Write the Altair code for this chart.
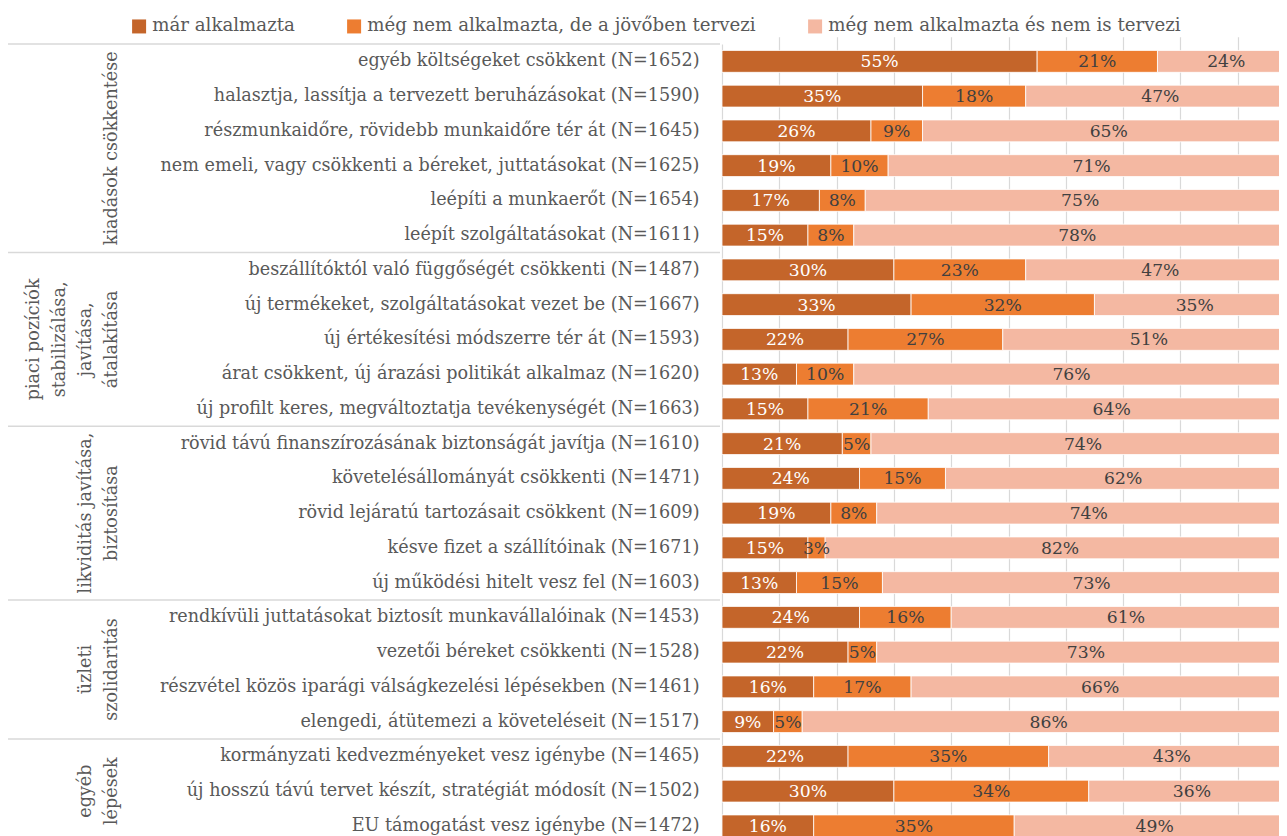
import altair as alt
import pandas as pd

categories = [
    "egyéb költségeket csökkent (N=1652)",
    "halasztja, lassítja a tervezett beruházásokat (N=1590)",
    "részmunkaidőre, rövidebb munkaidőre tér át (N=1645)",
    "nem emeli, vagy csökkenti a béreket, juttatásokat (N=1625)",
    "leépíti a munkaerőt (N=1654)",
    "leépít szolgáltatásokat (N=1611)",
    "beszállítóktól való függőségét csökkenti (N=1487)",
    "új termékeket, szolgáltatásokat vezet be (N=1667)",
    "új értékesítési módszerre tér át (N=1593)",
    "árat csökkent, új árazási politikát alkalmaz (N=1620)",
    "új profilt keres, megváltoztatja tevékenységét (N=1663)",
    "rövid távú finanszírozásának biztonságát javítja (N=1610)",
    "követelésállományát csökkenti (N=1471)",
    "rövid lejáratú tartozásait csökkent (N=1609)",
    "késve fizet a szállítóinak (N=1671)",
    "új működési hitelt vesz fel (N=1603)",
    "rendkívüli juttatásokat biztosít munkavállalóinak (N=1453)",
    "vezetői béreket csökkenti (N=1528)",
    "részvétel közös iparági válságkezelési lépésekben (N=1461)",
    "elengedi, átütemezi a követeléseit (N=1517)",
    "kormányzati kedvezményeket vesz igénybe (N=1465)",
    "új hosszú távú tervet készít, stratégiát módosít (N=1502)",
    "EU támogatást vesz igénybe (N=1472)",
]

mar_alkalmazta = [55, 35, 26, 19, 17, 15, 30, 33, 22, 13, 15, 21, 24, 19, 15, 13, 24, 22, 16, 9, 22, 30, 16]
tervezi = [21, 18, 9, 10, 8, 8, 23, 32, 27, 10, 21, 5, 15, 8, 3, 15, 16, 5, 17, 5, 35, 34, 35]
nem_tervezi = [24, 47, 65, 71, 75, 78, 47, 35, 51, 76, 64, 74, 62, 74, 82, 73, 61, 73, 66, 86, 43, 36, 49]

series_names = [
    "már alkalmazta",
    "még nem alkalmazta, de a jövőben tervezi",
    "még nem alkalmazta és nem is tervezi",
]
series_colors = ["#C4652A", "#ED7D31", "#F4B8A2"]

group_labels = [
    "kiadások csökkentése",
    "piaci pozíciók\nstabilizálása,\njavítása,\nátalakítása",
    "likviditás javítása,\nbiztosítása",
    "üzleti\nszolidaritás",
    "egyéb\nlépések",
]
group_sizes = [6, 5, 5, 4, 3]

FONT = "DejaVu Serif"
TXT = "#595959"
N = len(categories)
STEP = 34.75
FULL = STEP * N
LH = 26
PLOT_W = 557
PX_PER_PCT = 5.73

rows = []
for i, c in enumerate(categories):
    for j, vals in enumerate([mar_alkalmazta, tervezi, nem_tervezi]):
        rows.append({"cat": c, "series": series_names[j], "order": j, "value": vals[i]})
df = pd.DataFrame(rows)

starts = []
s = 0
for n in group_sizes:
    starts.append(s)
    s += n
gdf = pd.DataFrame({
    "label": group_labels,
    "start": starts,
    "mid": [st + n / 2 for st, n in zip(starts, group_sizes)],
})

yscale = alt.Scale(domain=categories, range=[0, FULL], paddingInner=0.37, paddingOuter=0.185)

base = alt.Chart(df).transform_stack(
    stack="value", as_=["v0", "v1"], groupby=["cat"], sort=[alt.SortField("order")]
)

xscale = alt.Scale(domain=[0, PLOT_W / PX_PER_PCT], nice=False, zero=True)

FS_CAT = 17.6
FS_LEG = 18.2
FS_VAL = 17.2

bars = base.mark_bar(clip=True, stroke="white", strokeWidth=0.8).encode(
    y=alt.Y("cat:N", scale=yscale, sort=categories,
            axis=alt.Axis(title=None, ticks=False, labelPadding=23, labelFontSize=FS_CAT,
                          labelFont=FONT, labelColor=TXT, labelLimit=800,
                          domainColor="#d9d9d9", domainWidth=1.2, grid=False)),
    x=alt.X("v0:Q", scale=xscale,
            axis=alt.Axis(title=None, labels=False, ticks=False, domain=False, grid=True,
                          values=[10, 20, 30, 40, 50, 60, 70, 80, 90],
                          gridColor="#d9d9d9", gridWidth=1.2)),
    x2="v1:Q",
    color=alt.Color("series:N",
                    scale=alt.Scale(domain=series_names, range=series_colors),
                    legend=alt.Legend(title=None, orient="none", direction="horizontal",
                                      legendX=-592, legendY=-27, symbolType="square",
                                      symbolSize=196, symbolStrokeWidth=0,
                                      labelFontSize=FS_LEG, labelFont=FONT, labelColor=TXT,
                                      columnPadding=50, labelOffset=4, labelLimit=800)),
    order=alt.Order("order:Q"),
)

labels = base.transform_calculate(
    mid="(datum.v0 + datum.v1) / 2",
    lbl="format(datum.value, 'd') + '%'",
).mark_text(font=FONT, fontSize=FS_VAL, baseline="middle", align="center", dy=1).encode(
    y=alt.Y("cat:N", scale=yscale, sort=categories),
    x=alt.X("mid:Q", scale=xscale),
    text="lbl:N",
    color=alt.condition(alt.datum.order == 0, alt.value("white"), alt.value("#404040")),
)

gscale = alt.Scale(domain=[0, N], range=[0, FULL], nice=False, zero=False)

seps = alt.Chart(gdf).mark_rule(color="#d9d9d9", strokeWidth=1.5).encode(
    y=alt.Y("start:Q", scale=gscale, axis=None),
    x=alt.value(-714),
    x2=alt.value(-2),
)

gtext = alt.Chart(gdf).transform_calculate(
    nlines="length(split(datum.label, '\\n'))",
    gx=f"-610 - (datum.nlines - 1) * {LH}",
).mark_text(
    font=FONT, fontSize=FS_CAT, angle=270, align="center", baseline="middle",
    lineBreak="\n", lineHeight=LH, color=TXT,
).encode(
    y=alt.Y("mid:Q", scale=gscale, axis=None),
    x=alt.X("gx:Q", scale=None),
    text="label:N",
)

left = alt.layer(seps, gtext)
right = alt.layer(bars, labels)

chart = alt.layer(right, left).resolve_scale(y="independent").properties(
    width=PLOT_W,
    height=792,
    autosize=alt.AutoSizeParams(type="none"),
    padding={"left": 714, "top": 36, "right": 0, "bottom": 0},
).configure_view(stroke=None)

chart.save("out.html", embed_options={"renderer": "svg", "actions": False})
